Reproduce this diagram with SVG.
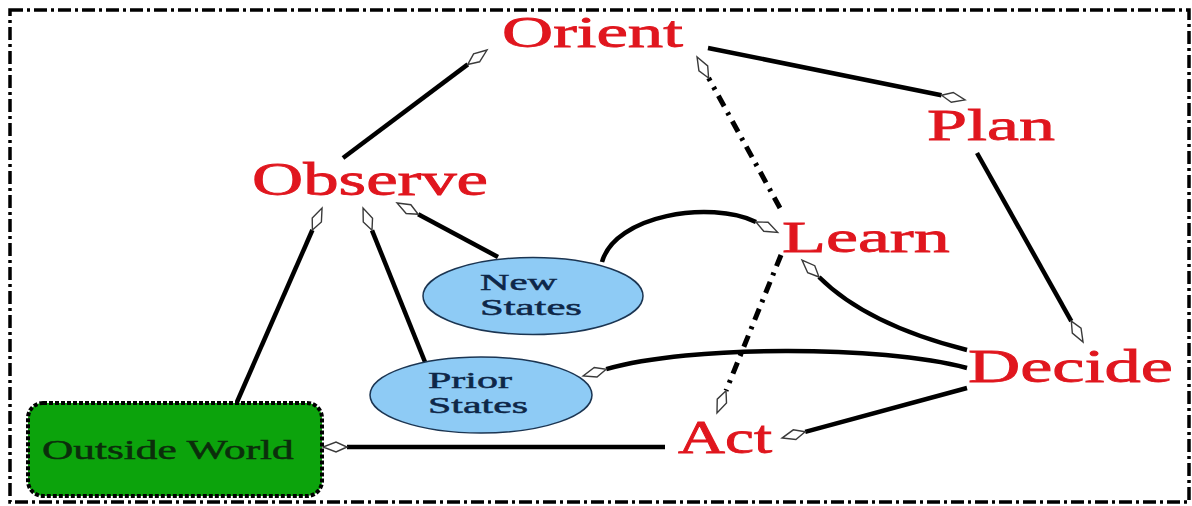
<svg xmlns="http://www.w3.org/2000/svg" width="1192" height="506" viewBox="0 0 1192 506">
  <style>
    .label { font-family: "Liberation Serif", "Times New Roman", serif; font-size: 46px; fill: #e0161e; stroke: #e0161e; stroke-width: 0.8; }
    .state { font-family: "Liberation Serif", "Times New Roman", serif; font-size: 24px; fill: #0e2748; stroke: #0e2748; stroke-width: 0.5; }
    .world { font-family: "Liberation Serif", "Times New Roman", serif; font-size: 27px; fill: #0b2e0b; stroke: #0b2e0b; stroke-width: 0.5; }
    .edge { fill: none; stroke: #000; stroke-width: 4.5; }
    .dashdot { fill: none; stroke: #000; stroke-width: 5; stroke-dasharray: 12 7 3 7; }
    .bubble { fill: #8ecbf5; stroke: #1b3552; stroke-width: 1.5; }
  </style>
  <defs>
    <!-- hollow kite-shaped arrowhead; path ends at the back of the head -->
    <marker id="head" markerUnits="userSpaceOnUse" markerWidth="28" markerHeight="14" refX="0" refY="7" orient="auto" overflow="visible">
      <path d="M0,7 L11,2 L24,7 L11,12 Z" fill="#fff" stroke="#3a3a3a" stroke-width="1.4" stroke-linejoin="miter"/>
    </marker>
  </defs>

  <rect width="1192" height="506" fill="#fff"/>

  <!-- outer frame -->
  <rect x="10" y="10" width="1179" height="492" fill="none" stroke="#000" stroke-width="3.5" stroke-dasharray="13 4 3 4"/>

  <g id="connectors">
    <!-- Observe -> Orient -->
    <path class="edge" d="M343,158 L467.8,64.4" marker-end="url(#head)"/>
    <!-- Orient -> Plan -->
    <path class="edge" d="M708,48 L941.5,95.2" marker-end="url(#head)"/>
    <!-- Learn -> Orient -->
    <path class="dashdot" d="M780,208 L708.6,78.0" marker-end="url(#head)"/>
    <!-- Learn -> Act -->
    <path class="dashdot" d="M781,255 L726.0,390.8" marker-end="url(#head)"/>
    <!-- Plan -> Decide -->
    <path class="edge" d="M977,153 L1071.3,321.1" marker-end="url(#head)"/>
    <!-- Decide -> Learn -->
    <path class="edge" d="M967,350 Q866.5,324.5 819,277" marker-end="url(#head)"/>
    <!-- Decide -> Prior States -->
    <path class="edge" d="M967,368 C880,345 690,345 606.2,369.2" marker-end="url(#head)"/>
    <!-- Decide -> Act -->
    <path class="edge" d="M967,388 L805.2,431.8" marker-end="url(#head)"/>
    <!-- Act -> Outside World -->
    <path class="edge" d="M665,447 L347,447" marker-end="url(#head)"/>
    <!-- Outside World -> Observe -->
    <path class="edge" d="M237,402 L312.4,230" marker-end="url(#head)"/>
    <!-- Prior States -> Observe -->
    <path class="edge" d="M425,362 L372,230.3" marker-end="url(#head)"/>
    <!-- New States -> Observe -->
    <path class="edge" d="M498,257 L418.2,214.3" marker-end="url(#head)"/>
    <!-- New States -> Learn -->
    <path class="edge" d="M602,262 C615,215 710,200 756,222" marker-end="url(#head)"/>
  </g>

  <g id="orient"><text class="label" style="font-size:44px" transform="translate(502,47) scale(1.61,1)">Orient</text></g>
  <g id="observe"><text class="label" transform="translate(252,195) scale(1.54,1)">Observe</text></g>
  <g id="plan"><text class="label" style="font-size:45px" transform="translate(927,140) scale(1.6,1)">Plan</text></g>
  <g id="learn"><text class="label" style="font-size:45px" transform="translate(782,252) scale(1.6,1)">Learn</text></g>
  <g id="decide"><text class="label" transform="translate(968,382) scale(1.573,1)">Decide</text></g>
  <g id="act"><text class="label" transform="translate(678,453) scale(1.415,1)">Act</text></g>

  <g id="new-states">
    <ellipse class="bubble" cx="533" cy="296" rx="110" ry="38.5"/>
    <text class="state" transform="translate(480,290) scale(1.7,1)">New</text>
    <text class="state" transform="translate(480,315) scale(1.78,1)">States</text>
  </g>

  <g id="prior-states">
    <ellipse class="bubble" cx="481" cy="395" rx="111" ry="38"/>
    <text class="state" transform="translate(428,388) scale(1.75,1)">Prior</text>
    <text class="state" transform="translate(428,413) scale(1.745,1)">States</text>
  </g>

  <g id="outside-world">
    <rect x="28" y="403" width="294" height="93" rx="15" fill="#0ca30c" stroke="#000" stroke-width="4" stroke-dasharray="4 2"/>
    <text class="world" transform="translate(42,459) scale(1.603,1)">Outside World</text>
  </g>
</svg>
